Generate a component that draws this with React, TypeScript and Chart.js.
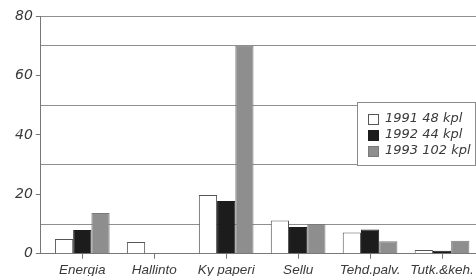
import React, { useEffect, useRef } from "react";
import { Chart, registerables } from "chart.js";

Chart.register(...registerables);

const categories = ["Energia", "Hallinto", "Ky paperi", "Sellu", "Tehd.palv.", "Tutk.&keh."];
const seriesLabels = ["1991 48 kpl", "1992 44 kpl", "1993 102 kpl"];
const values1991 = [5, 4, 19.8, 11.2, 7.2, 1.3];
const values1992 = [8, 0, 17.8, 9, 8.2, 1];
const values1993 = [13.7, 0, 70, 10, 4.2, 4.4];
const yMin = 0;
const yMax = 80;
const yStep = 10;
const labeledTicks = [0, 20, 40, 60, 80];
const gridValues = [10, 30, 50, 70, 80];

const SANS = "'Liberation Sans', Arial, Helvetica, sans-serif";
const WIDE = "'DejaVu Sans', sans-serif";
const fills = ["#ffffff", "#1c1c1c", "#8e8e8e"];
const borders = ["#555555", "#1c1c1c", "#7a7a7a"];

// shift category band start slightly right of the y axis line, as in the original print
const xShiftPlugin = {
  id: "xShift",
  afterLayout(chart: any) {
    const x = chart.scales.x;
    const origLeft = x.left;
    const origRight = x.right;
    x.left = origLeft + 5.5;
    x.right = origRight + 2;
    x.configure();
    x.left = origLeft;
    x.right = origRight;
  },
};

const legendPlugin = {
  id: "insideLegend",
  afterDraw(chart: any) {
    const ctx = chart.ctx;
    const y = chart.scales.y;
    const area = chart.chartArea;
    const top = Math.round(y.getPixelForValue(50)) - 3;
    const bottom = Math.round(y.getPixelForValue(30));
    const left = 357;
    const right = area.right - 1;
    ctx.save();
    ctx.fillStyle = "#ffffff";
    ctx.fillRect(left, top, right - left, bottom - top);
    ctx.strokeStyle = "#8a8a8a";
    ctx.lineWidth = 1;
    ctx.strokeRect(left + 0.5, top + 0.5, right - left, bottom - top);
    ctx.font = "oblique 13px " + WIDE;
    ctx.textBaseline = "middle";
    const ys = [top + 17, top + 33, top + 49];
    seriesLabels.forEach((lab, i) => {
      const cy = ys[i];
      ctx.fillStyle = fills[i];
      ctx.fillRect(368, cy - 5, 10, 10);
      ctx.strokeStyle = borders[i];
      ctx.strokeRect(368.5, cy - 4.5, 10, 10);
      ctx.fillStyle = "#3a3a3a";
      ctx.fillText(lab, 385, cy);
    });
    ctx.restore();
  },
};

export default function App() {
  const ref = useRef<HTMLCanvasElement>(null);
  useEffect(() => {
    document.body.style.margin = "0";
    const data = [values1991, values1992, values1993];
    const chart = new Chart(ref.current as HTMLCanvasElement, {
      type: "bar",
      data: {
        labels: categories,
        datasets: data.map((d, i) => ({
          label: seriesLabels[i],
          data: d,
          backgroundColor: fills[i],
          borderColor: borders[i],
          borderWidth: 1,
          categoryPercentage: 0.76,
          barPercentage: 1,
        })),
      },
      options: {
        animation: false,
        responsive: false,
        maintainAspectRatio: false,
        layout: { padding: { top: 16, right: 0, left: 12, bottom: -5 } },
        plugins: { legend: { display: false }, tooltip: { enabled: false } },
        scales: {
          x: {
            grid: {
              display: true,
              drawOnChartArea: false,
              drawTicks: true,
              tickLength: 5,
              offset: false,
              color: "#777777",
            },
            border: { display: true, color: "#777777", width: 1 },
            ticks: {
              color: "#3a3a3a",
              font: { family: SANS, size: 13.5, style: "italic" },
              padding: 3,
              maxRotation: 0,
              autoSkip: false,
            },
          },
          y: {
            min: yMin,
            max: yMax,
            grid: {
              color: (c: any) => (gridValues.includes(c.tick?.value) ? "#8f8f8f" : "rgba(0,0,0,0)"),
              tickColor: (c: any) => (labeledTicks.includes(c.tick?.value) ? "#777777" : "rgba(0,0,0,0)"),
              tickLength: 5,
              lineWidth: 1,
            },
            border: { display: true, color: "#777777", width: 1 },
            ticks: {
              stepSize: yStep,
              color: "#3a3a3a",
              font: { family: WIDE, size: 14, style: "oblique" as any },
              padding: 3,
              callback: (v: any) => (labeledTicks.includes(Number(v)) ? String(v) : ""),
            },
          },
        },
      },
      plugins: [xShiftPlugin, legendPlugin],
    });
    return () => chart.destroy();
  }, []);
  return (
    <div style={{ position: "absolute", left: 0, top: 0, width: 476, height: 276 }}>
      <canvas ref={ref} width={476} height={276} style={{ width: 476, height: 276 }} />
    </div>
  );
}
